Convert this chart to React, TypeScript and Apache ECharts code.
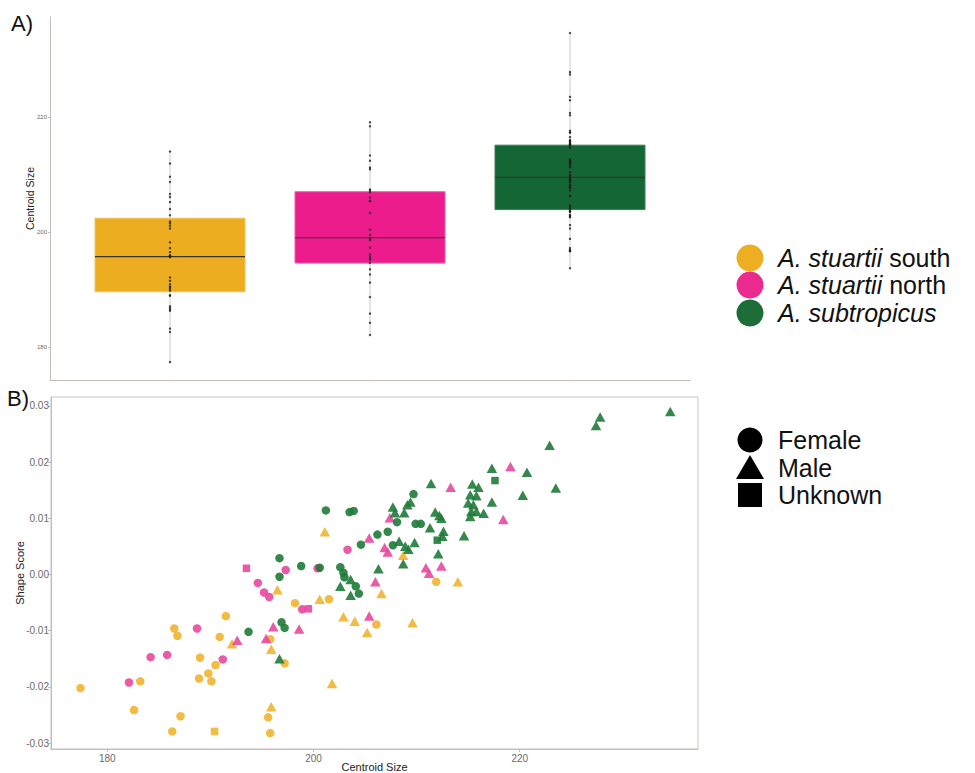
import React, { useEffect, useRef } from "react";
import * as echarts from "echarts";

// ---------- DATA ----------
const groupNames = ["A. stuartii south", "A. stuartii north", "A. subtropicus"];
const sexNames = ["Female", "Male", "Unknown"];

// Panel B: [Centroid Size, Shape Score]
const southFemale = [
  [191.5, -0.0074], [186.5, -0.0096], [186.8, -0.0109], [190.9, -0.0111], [189.0, -0.0148],
  [190.5, -0.0161], [189.8, -0.0176], [188.9, -0.0185], [190.1, -0.019], [183.2, -0.019],
  [177.4, -0.0202], [182.6, -0.0241], [187.1, -0.0252], [186.3, -0.0279], [195.8, -0.0115],
  [197.2, -0.0158], [198.2, -0.0051], [201.5, -0.0044], [206.1, -0.0089], [211.9, -0.0013],
  [195.6, -0.0254], [195.8, -0.0282],
];
const southMale = [
  [192.1, -0.0123], [196.5, -0.0027], [200.6, -0.0044], [202.9, -0.0075], [204.0, -0.0083],
  [205.2, -0.0103], [195.9, -0.0133], [195.9, -0.0235], [201.8, -0.0194], [209.6, -0.0086],
  [208.7, 0.0034], [206.6, -0.0034], [214.0, -0.0013], [201.1, 0.0076],
];
const southUnknown = [[190.4, -0.0279]];

const northFemale = [
  [188.7, -0.0096], [184.2, -0.0147], [185.8, -0.0143], [191.2, -0.0151], [182.1, -0.0192],
  [203.3, 0.0044], [197.3, 0.0008], [194.6, -0.0015], [195.2, -0.0032], [195.7, -0.004],
  [198.9, -0.0062], [200.4, 0.0011],
];
const northMale = [
  [192.6, -0.0117], [195.4, -0.0114], [196.1, -0.0093], [198.6, -0.0097], [205.4, -0.0074],
  [206.0, -0.0013], [206.9, 0.0048], [207.2, 0.004], [207.4, 0.0101], [205.4, 0.0065],
  [210.9, 0.0012], [211.2, 0.0002], [212.4, 0.0015], [213.3, 0.0155], [219.1, 0.0192],
  [218.4, 0.0098],
];
const northUnknown = [[193.5, 0.0011], [199.5, -0.0061]];

const subFemale = [
  [196.7, 0.0029], [198.8, 0.0015], [200.6, 0.0012], [202.6, 0.0013], [202.9, 0.0003],
  [203.0, -0.0005], [196.7, -0.0004], [204.1, -0.0021], [204.4, -0.0034], [196.9, -0.0085],
  [197.2, -0.0095], [193.7, -0.0102], [201.2, 0.0114], [203.5, 0.0111], [203.9, 0.0113],
  [204.6, 0.0053], [206.2, 0.0071], [207.2, 0.0076], [207.7, 0.0052], [208.1, 0.0093],
  [209.7, 0.0143], [209.9, 0.009], [210.4, 0.009],
];
const subMale = [
  [196.7, -0.015], [203.6, -0.0009], [202.6, -0.0021], [203.6, -0.0037], [206.3, 0.001],
  [208.7, 0.0019], [211.4, 0.0162], [207.7, 0.012], [207.9, 0.011], [208.8, 0.011],
  [209.4, 0.0129], [209.1, 0.0124], [208.3, 0.0059], [208.9, 0.005], [209.2, 0.0045],
  [209.8, 0.0057], [212.1, 0.0037], [211.3, 0.0083], [212.6, 0.0077], [212.5, 0.0068],
  [214.6, 0.0069], [211.8, 0.0111], [212.2, 0.0105], [212.4, 0.01], [215.4, 0.0161],
  [216.0, 0.0155], [215.2, 0.0142], [215.8, 0.014], [215.0, 0.0127], [215.5, 0.0124],
  [217.3, 0.0129], [215.3, 0.0112], [215.8, 0.0112], [216.5, 0.0109], [215.2, 0.0103],
  [217.3, 0.0189], [220.7, 0.0182], [220.3, 0.0141], [223.5, 0.0154], [222.9, 0.023],
  [227.8, 0.028], [227.4, 0.0265], [234.6, 0.029],
];
const subUnknown = [[217.6, 0.0167], [212.0, 0.0061]];

// Panel A box statistics: [min, Q1, median, Q3, max]
const southBox = [177.1, 189.6, 195.7, 202.4, 214.0];
const northBox = [181.9, 194.6, 199.0, 207.0, 219.0];
const subtropicusBox = [193.7, 203.9, 209.5, 215.1, 234.6];

const yTicksA = [180, 200, 220];
const xTicksB = [180, 200, 220];
const yTicksB = [-0.03, -0.02, -0.01, 0, 0.01, 0.02, 0.03];

// ---------- STYLE ----------
const boxColors = ["#EDAD20", "#EC1C8D", "#156635"];
const boxBorders = ["#F2C35E", "#F05AA8", "#3C7F55"];
const pointColors = ["#F0B430", "#E8489D", "#1F7B38"];
const legendColors = ["#EEAE22", "#EB2A8F", "#1C6D38"];
const FONT = "'Liberation Sans', Arial, sans-serif";
const axisGray = "#c4bab6";
const labelGray = "#6e6868";

const groupSets = [
  [southFemale, southMale, southUnknown],
  [northFemale, northMale, northUnknown],
  [subFemale, subMale, subUnknown],
];
const sexSymbols = ["circle", "triangle", "rect"];
const sexSizes: any[] = [8.5, [10.5, 9.5], 7.5];

export default function App() {
  const ref = useRef<HTMLDivElement>(null);
  useEffect(() => {
    if (!ref.current) return;
    const chart = echarts.init(ref.current, null, { renderer: "svg" });

    const boxData = [southBox, northBox, subtropicusBox].map((b, i) => [i + 1, ...b]);

    const dotSeries = groupSets.map((sets, gi) => ({
      type: "scatter",
      xAxisIndex: 0,
      yAxisIndex: 0,
      symbol: "circle",
      symbolSize: 2.4,
      itemStyle: { color: "#1b1b1b" },
      z: 5,
      data: sets.flat().map((p) => [gi + 1, p[0]]),
      silent: true,
    }));

    const scatterSeries: any[] = [];
    groupSets.forEach((sets, gi) => {
      sets.forEach((pts, si) => {
        scatterSeries.push({
          type: "scatter",
          name: groupNames[gi] + " " + sexNames[si],
          xAxisIndex: 1,
          yAxisIndex: 1,
          symbol: sexSymbols[si],
          symbolSize: sexSizes[si],
          itemStyle: { color: pointColors[gi], opacity: 0.9 },
          data: pts,
          z: 3 + gi,
        });
      });
    });

    const legendY = [258, 285, 313];
    const shapeY = [440, 468, 495];
    const lx = 750;
    const tx = 778;
    const legendFont = 25;
    const legendLH = 24;

    const graphics: any[] = [
      { type: "text", left: 11, top: 12, style: { text: "A)", font: `22px ${FONT}`, fill: "#111" } },
      { type: "text", left: 7, top: 387, style: { text: "B)", font: `22px ${FONT}`, fill: "#111" } },
    ];
    groupNames.forEach((g, i) => {
      graphics.push({
        type: "circle",
        shape: { cx: lx, cy: legendY[i], r: 13.5 },
        style: { fill: legendColors[i] },
      });
      const parts = g.split(" ");
      const italic = i === 2 ? g : parts.slice(0, 2).join(" ");
      const rest = i === 2 ? "" : " " + parts.slice(2).join(" ");
      graphics.push({
        type: "text",
        x: tx,
        y: legendY[i],
        style: {
          text: `{i|${italic}}{n|${rest}}`,
          verticalAlign: "middle",
          fill: "#111",
          lineHeight: legendLH,
          rich: {
            i: { fontStyle: "italic", fontSize: legendFont, fontFamily: FONT, fill: "#111", lineHeight: legendLH },
            n: { fontSize: legendFont, fontFamily: FONT, fill: "#111", lineHeight: legendLH },
          },
        },
      });
    });
    // shape legend
    graphics.push({ type: "circle", shape: { cx: lx, cy: shapeY[0], r: 12.5 }, style: { fill: "#000" } });
    graphics.push({
      type: "polygon",
      shape: { points: [[lx, shapeY[1] - 13], [lx - 14, shapeY[1] + 11], [lx + 14, shapeY[1] + 11]] },
      style: { fill: "#000" },
    });
    graphics.push({ type: "rect", shape: { x: lx - 12, y: shapeY[2] - 12, width: 24, height: 24 }, style: { fill: "#000" } });
    sexNames.forEach((s, i) => {
      graphics.push({
        type: "text",
        x: tx,
        y: shapeY[i],
        style: {
          text: s, fontSize: legendFont, fontFamily: FONT, fill: "#111",
          verticalAlign: "middle", lineHeight: legendLH,
        },
      });
    });

    chart.setOption({
      animation: false,
      backgroundColor: "#fff",
      grid: [
        { left: 50, top: 17, width: 640, height: 363, containLabel: false },
        {
          left: 51, top: 397, width: 647, height: 353, containLabel: false,
          show: true, borderColor: "#cbc3bf", borderWidth: 1, backgroundColor: "transparent",
        },
      ],
      xAxis: [
        {
          type: "value", gridIndex: 0, min: 0.4, max: 3.6,
          axisLine: { show: true, lineStyle: { color: axisGray, width: 1 } },
          axisTick: { show: true, length: 2, customValues: [1, 2, 3], lineStyle: { color: "#ddd6d3" } },
          axisLabel: { show: false },
          splitLine: { show: false },
        },
        {
          type: "value", gridIndex: 1, min: 174.54, max: 237.29,
          name: "Centroid Size", nameLocation: "middle", nameGap: 12, nameMoveOverlap: false,
          nameTextStyle: { fontSize: 11, fontFamily: FONT, color: "#222", verticalAlign: "top" },
          axisLine: { show: true, onZero: false, lineStyle: { color: axisGray } },
          axisTick: { show: true, length: 3, customValues: xTicksB, lineStyle: { color: axisGray } },
          axisLabel: { customValues: xTicksB, fontSize: 10, color: labelGray, fontFamily: FONT, margin: 4 },
          splitLine: { show: false },
        },
      ],
      yAxis: [
        {
          type: "value", gridIndex: 0, min: 174.26, max: 237.39,
          name: "Centroid Size", nameLocation: "middle", nameGap: 15, nameRotate: 90, nameMoveOverlap: false,
          nameTextStyle: { fontSize: 10.5, fontFamily: FONT, color: "#222" },
          axisLine: { show: true, lineStyle: { color: axisGray } },
          axisTick: { show: true, length: 2, customValues: yTicksA, lineStyle: { color: axisGray } },
          axisLabel: { customValues: yTicksA, fontSize: 6, color: labelGray, fontFamily: FONT, margin: 3 },
          splitLine: { show: false },
        },
        {
          type: "value", gridIndex: 1, min: -0.03103, max: 0.03156,
          name: "Shape Score", nameLocation: "middle", nameGap: 26, nameRotate: 90, nameMoveOverlap: false,
          nameTextStyle: { fontSize: 11, fontFamily: FONT, color: "#222" },
          axisLine: { show: true, onZero: false, lineStyle: { color: axisGray } },
          axisTick: { show: true, length: 3, customValues: yTicksB, lineStyle: { color: axisGray } },
          axisLabel: {
            customValues: yTicksB, fontSize: 10, color: labelGray, fontFamily: FONT, margin: 2,
            formatter: (v: number) => v.toFixed(2),
          },
          splitLine: { show: false },
        },
      ],
      series: [
        {
          type: "custom",
          xAxisIndex: 0,
          yAxisIndex: 0,
          data: boxData,
          encode: { x: 0, y: [1, 2, 3, 4, 5] },
          z: 2,
          renderItem: (params: any, api: any) => {
            const x = api.value(0);
            const lo = api.coord([x, api.value(1)]);
            const q1 = api.coord([x, api.value(2)]);
            const med = api.coord([x, api.value(3)]);
            const q3 = api.coord([x, api.value(4)]);
            const hi = api.coord([x, api.value(5)]);
            const w = api.size([0.75, 0])[0];
            const i = params.dataIndex;
            return {
              type: "group",
              children: [
                {
                  type: "line",
                  shape: { x1: lo[0], y1: lo[1], x2: hi[0], y2: hi[1] },
                  style: { stroke: "#cfc8c8", lineWidth: 1 },
                },
                {
                  type: "rect",
                  shape: { x: q3[0] - w / 2, y: q3[1], width: w, height: q1[1] - q3[1] },
                  style: { fill: boxColors[i], stroke: boxBorders[i], lineWidth: 1 },
                },
                {
                  type: "line",
                  shape: { x1: med[0] - w / 2, y1: med[1], x2: med[0] + w / 2, y2: med[1] },
                  style: { stroke: "#3b3531", lineWidth: 1.2 },
                },
              ],
            };
          },
        },
        ...dotSeries,
        ...scatterSeries,
      ],
      graphic: graphics,
    });
    return () => chart.dispose();
  }, []);
  return (
    <div
      ref={ref}
      style={{ position: "fixed", left: 0, top: 0, width: 975, height: 773, background: "#fff" }}
    />
  );
}
